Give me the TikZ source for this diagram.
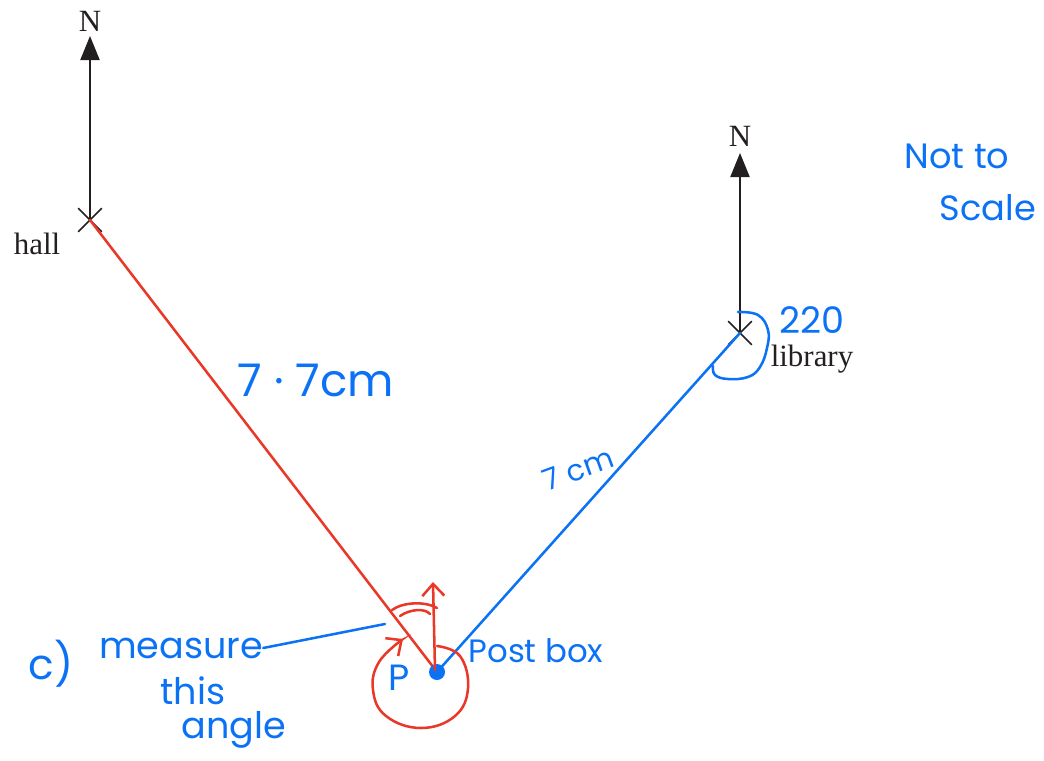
\documentclass[tikz,border=0pt]{standalone}
\usepackage{fontspec}
\setmainfont{Liberation Serif}
\newfontfamily\handfont{Poppins}
\usetikzlibrary{arrows.meta,positioning,shapes.misc}
\definecolor{mpblue}{RGB}{12,114,245}
\definecolor{mpred}{RGB}{234,56,40}
\definecolor{mpblack}{RGB}{35,31,32}
\tikzset{
  mpcross/.style={cross out, draw=mpblack, line width=1.1pt, minimum size=5.5mm, inner sep=0pt},
  mpnorth/.style={-{Triangle[length=6mm, width=4.8mm]}, line width=1pt, draw=mpblack},
  mplabel/.style={font=\fontsize{22}{26}\selectfont, text=mpblack, inner sep=0pt},
  mphand/.style={font=\handfont\fontsize{26}{30}\selectfont, text=mpblue, inner sep=0pt},
  mpredline/.style={line width=1.8pt, draw=mpred, line cap=round},
  mpblueline/.style={line width=1.8pt, draw=mpblue, line cap=round},
  mpredpen/.style={line width=1.8pt, draw=mpred, line cap=round, -{Straight Barb[length=3mm, width=5.5mm]}}
}

\begin{document}
\begin{tikzpicture}[x=0.025cm, y=-0.025cm]
  \useasboundingbox (0,0) rectangle (1044,761);
  % places
  \coordinate (hall) at (90,220);
  \coordinate (library) at (740,333);
  \coordinate (postbox) at (437,672);
  \coordinate (hallN) at (90,36);
  \coordinate (libraryN) at (740,153);
  \draw[mpnorth] (hall) -- (hallN);
  \draw[mpnorth] (library) -- (libraryN);
  \node[mplabel, above=1mm of hallN] (hallNlabel) {N};
  \node[mplabel, above=1.5mm of libraryN] (libraryNlabel) {N};
  \node[mpcross] (hallx) at (hall) {};
  \node[mpcross] (libraryx) at (library) {};
  \node[mplabel] (halllabel) at (37,244) {hall};
  \node[mplabel] (librarylabel) at (812,359) {library};
  % routes
  \draw[mpredline] (hall) -- (postbox);
  \draw[mpblueline] (library) -- (postbox);
  \node[circle, fill=mpblue, minimum size=4mm, inner sep=0pt] (postboxdot) at (postbox) {};
  \node[mphand, font=\handfont\fontsize{32}{36}\selectfont] (halldist) at (316,380) {7 · 7cm};
  \node[mphand, font=\handfont\fontsize{21}{24}\selectfont, rotate=20] (librarydist) at (578,469) {7 cm};
  % bearing at the library
  \draw[mpblueline] plot[smooth, tension=0.7] coordinates {(738,312) (758,315) (768,330) (767,348) (760,367) (748,377) (728,379) (715,375) (713,366)};
  \node[mphand] (bearing) at (812,320) {220};
  % angle at the post box
  \coordinate (postboxN) at (433,582);
  \draw[mpredpen] (435,670) -- (postboxN);
  \draw[mpredline] (392,610) .. controls (403,602) and (425,601) .. (437,608);
  \draw[mpredline] (400,616) .. controls (410,609) and (425,608) .. (430,614);
  \draw[mpredpen] plot[smooth, tension=0.7] coordinates {(437,646) (460,656) (468,688) (455,716) (421,728) (386,716) (373,690) (379,662) (403,639)};
  \node[mphand] (ptext) at (399,678) {P};
  \node[mphand, font=\handfont\fontsize{23}{26}\selectfont] (postboxlabel) at (536,651) {Post box};
  % question
  \node[mphand, font=\handfont\fontsize{30}{34}\selectfont] (qpart) at (51,664) {c)};
  \node[mphand] (measure) at (181,648) {measure};
  \node[mphand] (thistext) at (193,691) {this};
  \node[mphand] (angletext) at (234,730) {angle};
  \coordinate (pointer) at (385,624);
  \draw[mpblueline] (measure.east) -- (pointer);
  % note
  \node[mphand, font=\handfont\fontsize{25}{28}\selectfont] (notto) at (957,156) {Not to};
  \node[mphand, font=\handfont\fontsize{25}{28}\selectfont] (scaletext) at (988,208) {Scale};
\end{tikzpicture}
\end{document}
